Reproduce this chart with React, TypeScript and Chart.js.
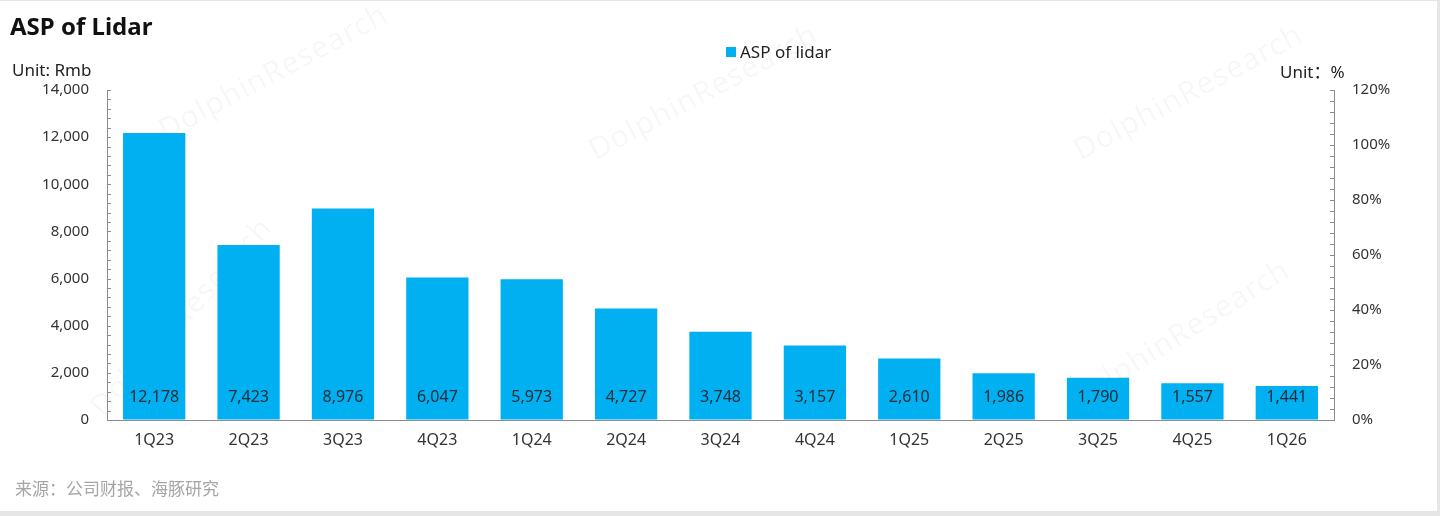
import React, { useEffect, useRef } from "react";
import { Chart, registerables } from "chart.js";

Chart.register(...registerables);

const categories = ["1Q23", "2Q23", "3Q23", "4Q23", "1Q24", "2Q24", "3Q24", "4Q24", "1Q25", "2Q25", "3Q25", "4Q25", "1Q26"];
const aspValues = [12178, 7423, 8976, 6047, 5973, 4727, 3748, 3157, 2610, 1986, 1790, 1557, 1441];
const leftAxisMax = 14000;
const leftAxisStep = 2000;
const leftMinorStep = 400;
const rightAxisMax = 120;
const rightAxisStep = 20;
const rightMinorStep = 4;

const seriesName = "ASP of lidar";
const titleText = "ASP of Lidar";
const leftUnit = "Unit: Rmb";
const rightUnit = "Unit：%";
const sourceText = "来源：公司财报、海豚研究";
const watermarkText = "DolphinResearch";

const FONT = "'Noto Sans', 'Open Sans', 'Noto Sans CJK SC', sans-serif";
const BAR_COLOR = "#00B0F0";
const AXIS_COLOR = "#8c8c8c";
const TEXT_COLOR = "#333333";

const minorTicksPlugin = {
  id: "minorTicks",
  afterDraw(chart: any) {
    const ctx = chart.ctx;
    const area = chart.chartArea;
    ctx.save();
    ctx.strokeStyle = AXIS_COLOR;
    ctx.lineWidth = 1;
    const yl = chart.scales.y;
    for (let v = 0; v <= leftAxisMax + 0.001; v += leftMinorStep) {
      const py = Math.round(yl.getPixelForValue(v)) + 0.5;
      ctx.beginPath();
      ctx.moveTo(area.left, py);
      ctx.lineTo(area.left + 4, py);
      ctx.stroke();
    }
    const yr = chart.scales.y2;
    for (let v = 0; v <= rightAxisMax + 0.001; v += rightMinorStep) {
      const py = Math.round(yr.getPixelForValue(v)) + 0.5;
      ctx.beginPath();
      ctx.moveTo(area.right, py);
      ctx.lineTo(area.right - 4, py);
      ctx.stroke();
    }
    ctx.restore();
  },
};

const valueLabelsPlugin = {
  id: "valueLabels",
  afterDatasetsDraw(chart: any) {
    const ctx = chart.ctx;
    const meta = chart.getDatasetMeta(0);
    const data = chart.data.datasets[0].data as number[];
    ctx.save();
    ctx.font = `16px ${FONT}`;
    ctx.fillStyle = "#1e2a36";
    ctx.textAlign = "center";
    ctx.textBaseline = "middle";
    meta.data.forEach((bar: any, i: number) => {
      ctx.fillText(data[i].toLocaleString("en-US"), bar.x, bar.base - 22);
    });
    ctx.restore();
  },
};

function BarChart() {
  const ref = useRef<HTMLCanvasElement | null>(null);
  useEffect(() => {
    if (!ref.current) return;
    const chart = new Chart(ref.current, {
      type: "bar",
      data: {
        labels: categories,
        datasets: [
          {
            label: seriesName,
            data: aspValues,
            backgroundColor: BAR_COLOR,
            borderWidth: 0,
            categoryPercentage: 1,
            barPercentage: 0.66,
            yAxisID: "y",
          },
        ],
      },
      options: {
        responsive: false,
        animation: false,
        devicePixelRatio: 1,
        layout: { padding: { left: 0, right: 0, top: 90, bottom: 56 } },
        plugins: {
          legend: { display: false },
          title: { display: false },
          tooltip: { enabled: false },
        },
        scales: {
          x: {
            offset: true,
            grid: { display: true, color: "transparent", drawTicks: false },
            border: { display: true, color: AXIS_COLOR, width: 1 },
            ticks: { color: TEXT_COLOR, font: { size: 16, family: FONT }, padding: 11, maxRotation: 0, autoSkip: false },
            afterFit(scale: any) {
              scale.height = 40;
            },
          },
          y: {
            position: "left",
            min: 0,
            max: leftAxisMax,
            grid: { display: true, color: "transparent", drawTicks: false },
            border: { display: true, color: AXIS_COLOR, width: 1 },
            ticks: {
              stepSize: leftAxisStep,
              color: TEXT_COLOR,
              font: { size: 15, family: FONT },
              padding: 18,
              callback: (v: any) => Number(v).toLocaleString("en-US"),
            },
            afterFit(scale: any) {
              scale.width = 107;
            },
          },
          y2: {
            position: "right",
            display: true,
            min: 0,
            max: rightAxisMax,
            grid: { display: true, color: "transparent", drawTicks: false },
            border: { display: true, color: AXIS_COLOR, width: 1 },
            ticks: {
              stepSize: rightAxisStep,
              color: TEXT_COLOR,
              font: { size: 15, family: FONT },
              padding: 18,
              callback: (v: any) => `${v}%`,
            },
            afterFit(scale: any) {
              scale.width = 106;
            },
          },
        },
      },
      plugins: [minorTicksPlugin, valueLabelsPlugin],
    });
    return () => chart.destroy();
  }, []);
  return (
    <canvas
      ref={ref}
      width={1440}
      height={516}
      style={{ position: "absolute", left: 0, top: 0, width: 1440, height: 516 }}
    />
  );
}

const watermarks = [
  { left: 160, top: 110, angle: -28 },
  { left: 590, top: 130, angle: -28 },
  { left: 1075, top: 130, angle: -28 },
  { left: 95, top: 390, angle: -48 },
  { left: 1070, top: 380, angle: -32 },
];

export default function App() {
  useEffect(() => {
    document.body.style.margin = "0";
  }, []);
  return (
    <div
      style={{
        position: "relative",
        width: 1440,
        height: 516,
        background: "#e6e6e6",
        overflow: "hidden",
        fontFamily: FONT,
      }}
    >
      <div style={{ position: "absolute", left: 0, top: 1, width: 1437, height: 510, background: "#ffffff" }} />
      {watermarks.map((w, i) => (
        <div
          key={i}
          style={{
            position: "absolute",
            left: w.left,
            top: w.top,
            fontSize: 30,
            color: "rgba(0,0,0,0.045)",
            transform: `rotate(${w.angle}deg)`,
            transformOrigin: "left center",
            whiteSpace: "nowrap",
            fontFamily: FONT,
            letterSpacing: 1,
          }}
        >
          {watermarkText}
        </div>
      ))}
      <BarChart />
      <div
        style={{
          position: "absolute",
          left: 10,
          top: 10,
          fontSize: 24,
          fontWeight: 700,
          color: "#111",
          lineHeight: "32px",
        }}
      >
        {titleText}
      </div>
      <div style={{ position: "absolute", left: 726, top: 41, display: "flex", alignItems: "center" }}>
        <div style={{ width: 10, height: 10, background: BAR_COLOR, marginRight: 4 }} />
        <div style={{ fontSize: 17, color: "#222", lineHeight: "22px" }}>{seriesName}</div>
      </div>
      <div style={{ position: "absolute", left: 12, top: 59, fontSize: 17, color: "#222", lineHeight: "22px" }}>
        {leftUnit}
      </div>
      <div style={{ position: "absolute", left: 1280, top: 61, fontSize: 17, color: "#222", lineHeight: "22px" }}>
        {rightUnit}
      </div>
      <div
        style={{
          position: "absolute",
          left: 15,
          top: 476,
          fontSize: 17,
          color: "#a6a6a6",
          lineHeight: "24px",
          fontFamily: "'Noto Sans CJK SC', 'Noto Sans', sans-serif",
        }}
      >
        {sourceText}
      </div>
    </div>
  );
}
